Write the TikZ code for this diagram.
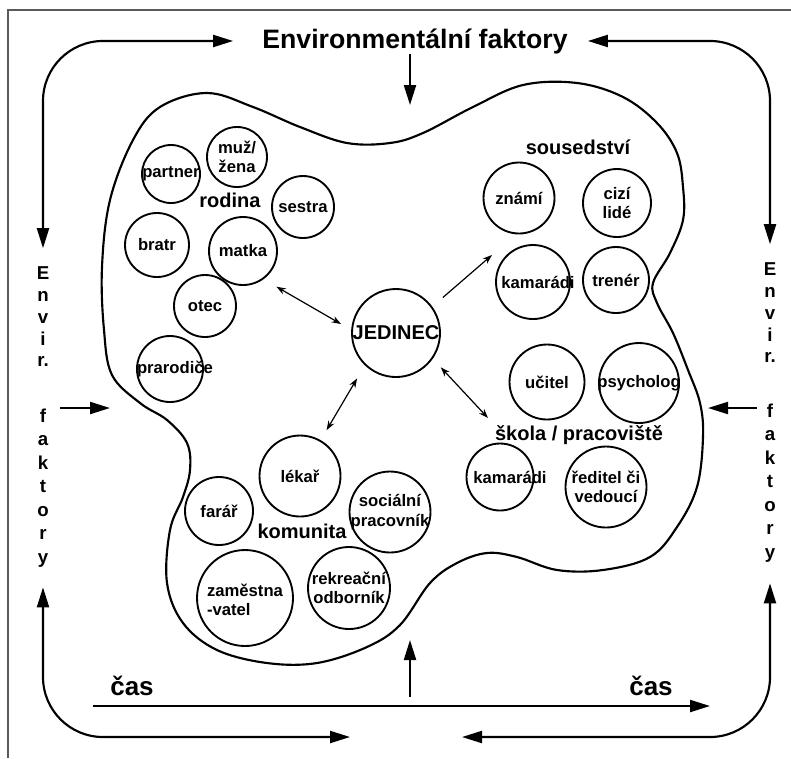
\documentclass[tikz,border=0pt]{standalone}
\usepackage{fontspec}
\setmainfont{Liberation Sans}
\usetikzlibrary{arrows.meta,positioning}
\definecolor{framegray}{RGB}{90,90,90}

\begin{document}
\begin{tikzpicture}[
  x=0.75pt, y=-0.75pt,
  member/.style={circle, draw, line width=1.4pt, inner sep=0pt, minimum size=#1*0.75pt},
  lbl/.style={font=\bfseries\fontsize{12.5}{14.5}\selectfont, align=center, inner sep=0pt},
  grp/.style={font=\bfseries\fontsize{15}{17}\selectfont, inner sep=0pt, anchor=base},
  vtext/.style={font=\bfseries\fontsize{14}{#1}\selectfont, align=center, inner sep=0pt},
  timelbl/.style={font=\bfseries\fontsize{19.5}{22}\selectfont, inner sep=0pt, anchor=base},
  bigarrow/.style={arrows={Triangle[length=15pt,width=9pt]-Triangle[length=15pt,width=9pt]}, line width=1.6pt, rounded corners=45pt},
  onearrow/.style={arrows={-Triangle[length=15pt,width=9pt]}, line width=1.6pt},
  biarrow/.style={arrows={Stealth[length=7pt,width=5pt]-Stealth[length=7pt,width=5pt]}, line width=0.9pt},
  link/.style={arrows={-Stealth[length=7pt,width=5pt]}, line width=0.9pt}
]
\useasboundingbox (0,0) rectangle (791,758);
\draw[framegray, line width=1.5pt] (8,758) -- (8,10) -- (791,10);

% environment around the individual
\draw[line width=1.6pt] plot[smooth cycle, tension=0.6] coordinates {
  (112,375) (104,330) (102,267) (110,200) (133,140) (160,107) (207,93)
  (253,107) (300,127) (347,143) (390,143) (423,133) (473,107) (523,85)
  (577,83) (623,97) (657,123) (677,153) (683,187) (683,220) (670,253)
  (653,283) (657,303) (673,333) (688,370) (700,403) (703,437) (697,487)
  (677,527) (650,557) (603,570) (557,570) (517,557) (487,553) (457,563)
  (430,583) (400,625) (367,647) (317,663) (267,663) (217,650) (183,623)
  (167,583) (170,530) (183,497) (190,470) (187,443) (167,420) (140,403)};

% texts round the edge
\node[font=\bfseries\fontsize{20}{24}\selectfont, inner sep=0pt, anchor=base] (envTop) at (415,48) {Environmentální faktory};
\node[vtext=16.3pt] (envirL) at (43,317) {E\\n\\v\\i\\r.};
\node[vtext=17.6pt] (faktoryL) at (43,488) {f\\a\\k\\t\\o\\r\\y};
\node[vtext=16.3pt] (envirR) at (770,313) {E\\n\\v\\i\\r.};
\node[vtext=17.6pt] (faktoryR) at (770,483) {f\\a\\k\\t\\o\\r\\y};
\node[timelbl] (casL) at (132,695) {čas};
\node[timelbl] (casR) at (651,695) {čas};

\coordinate (timeL) at (350,737);
\coordinate (timeR) at (462,737);
\coordinate (blobTop) at (410,105);
\coordinate (blobBottom) at (410,640);
\coordinate (upStart) at (410,697);
\coordinate (axisStart) at (93,706);
\coordinate (axisEnd) at (710,706);
\coordinate (inL) at (60,408);
\coordinate (inLTip) at (110,408);
\coordinate (inR) at (757,408);
\coordinate (inRTip) at (708,408);

% groups
\node[grp] (rodina) at (230,207) {rodina};
\node[grp] (sousedstvi) at (578,154) {sousedství};
\node[grp] (skola) at (579,440) {škola / pracoviště};
\node[grp] (komunita) at (302,538) {komunita};

% rodina
\node[member=58, label={[lbl]center:partner}] (partner) at (171,174) {};
\node[member=60, label={[lbl]center:muž/\\žena}] (muz) at (237,157) {};
\node[member=62, label={[lbl]center:sestra}] (sestra) at (303,207) {};
\node[member=64, label={[lbl]center:bratr}] (bratr) at (157,245) {};
\node[member=68, label={[lbl]center:matka}] (matka) at (243,251) {};
\node[member=62, label={[lbl]center:otec}] (otec) at (205,306) {};
\node[member=66, label={[lbl, xshift=3.75pt]center:prarodiče}] (prarodice) at (170,369) {};

% jedinec
\node[member=88, label={[lbl, font=\bfseries\fontsize{15}{17}\selectfont]center:JEDINEC}] (jedinec) at (396,333) {};

% sousedstvi
\node[member=71, label={[lbl]center:známí}] (znami) at (519,198) {};
\node[member=68, label={[lbl]center:cizí\\lidé}] (cizi) at (617,203) {};
\node[member=74, label={[lbl, xshift=3.75pt]center:kamarádi}] (kamaradiA) at (533,282) {};
\node[member=66, label={[lbl]center:trenér}] (trener) at (616,280) {};

% skola / pracoviste
\node[member=75, label={[lbl]center:učitel}] (ucitel) at (547,382) {};
\node[member=80, label={[lbl]center:psycholog}] (psycholog) at (639,383) {};
\node[member=67, label={[lbl, xshift=7.5pt]center:kamarádi}] (kamaradiB) at (500,477) {};
\node[member=81, label={[lbl]center:ředitel či\\vedoucí}] (reditel) at (606,487) {};

% komunita
\node[member=81, label={[lbl]center:lékař}] (lekar) at (300,476) {};
\node[member=68, label={[lbl]center:farář}] (farar) at (219,511) {};
\node[member=81, label={[lbl]center:sociální\\pracovník}] (socialni) at (390,512) {};
\node[member=96, label={[lbl, align=left, yshift=-1.5pt]center:zaměstna\\-vatel}] (zamestnavatel) at (245,598) {};
\node[member=82, label={[lbl]center:rekreační\\odborník}] (rekreacni) at (349,588) {};

\coordinate (sousedArr) at (492,255);
\coordinate (skolaArr) at (488,418);

\draw[biarrow, shorten <=11.2pt, shorten >=8.8pt] (matka.-54) -- (jedinec.176);
\draw[link, shorten <=10.4pt] (jedinec.36) -- (sousedArr);
\draw[biarrow, shorten <=8.8pt] (jedinec.-35) -- (skolaArr);
\draw[biarrow, shorten <=11.4pt, shorten >=8.7pt] (jedinec.226) -- (lekar.60);

% outer arrows
\draw[bigarrow, shorten <=14pt, shorten >=21.75pt] (envirL.north) |- (envTop.west);
\draw[bigarrow, shorten <=15pt, shorten >=14pt] (envTop.east) -| (envirR.north);
\draw[bigarrow, shorten <=15pt] (faktoryL.south) |- (timeL);
\draw[bigarrow, shorten <=15.75pt] (faktoryR.south) |- (timeR);
\draw[onearrow] (envTop.south -| blobTop) -- (blobTop);
\draw[onearrow] (upStart) -- (blobBottom);
\draw[onearrow] (axisStart) -- (axisEnd);
\draw[onearrow] (inL) -- (inLTip);
\draw[onearrow] (inR) -- (inRTip);
\end{tikzpicture}
\end{document}
